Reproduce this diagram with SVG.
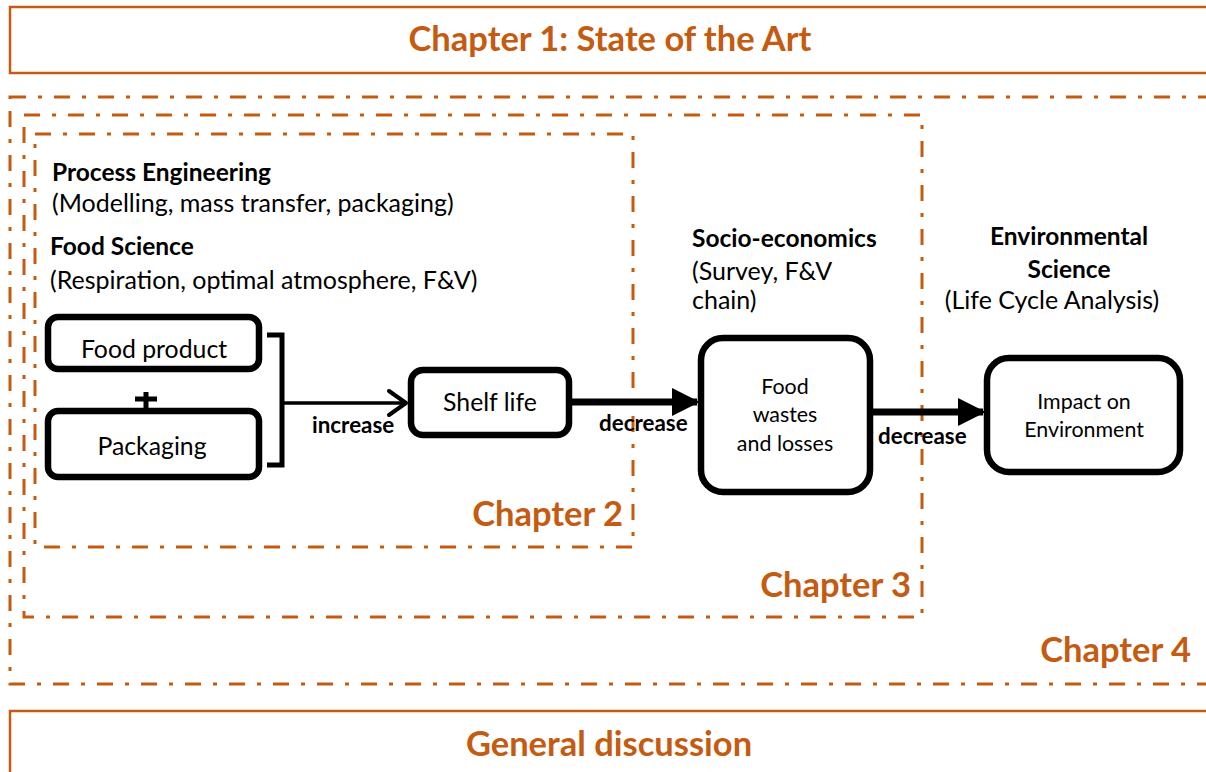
<svg xmlns="http://www.w3.org/2000/svg" width="1206" height="772" viewBox="0 0 1206 772">
<style>
text{font-family:Lato,"Carlito","Liberation Sans",sans-serif;fill:#000}
.ch{fill:#C55A11;font-weight:bold;font-size:34.5px}
.dd{fill:none;stroke:#C55A11;stroke-width:3;stroke-dasharray:16 12 4 12}
.solid{fill:none;stroke:#C55A11;stroke-width:2.5}
.b{font-weight:bold}
.h{font-size:25px}
.hb{font-size:24.5px;font-weight:bold}
.n{fill:#fff;stroke:#000;stroke-width:6.5}
.nt{font-size:24.8px;text-anchor:middle}
.ns{font-size:21.4px;text-anchor:middle}
.lbl{font-size:22.4px;font-weight:bold}
</style>
<defs>
<marker id="tri" markerWidth="4" markerHeight="4" refX="3.6" refY="2" orient="auto" markerUnits="strokeWidth" viewBox="0 0 4 4">
<path d="M0,0 L4,2 L0,4 Z" fill="#000"/>
</marker>
</defs>
<g id="chapter1">
<rect class="solid" x="10" y="7" width="1210" height="66"/>
<text class="ch" x="610" y="51" text-anchor="middle">Chapter 1: State of the Art</text>
</g>
<g id="chapter4">
<rect class="dd" x="10" y="97" width="1210" height="587"/>
<text class="ch" x="1191" y="662" text-anchor="end">Chapter 4</text>
</g>
<g id="chapter3">
<rect class="dd" x="24" y="115" width="898" height="502"/>
<text class="ch" x="911" y="597" text-anchor="end">Chapter 3</text>
</g>
<g id="chapter2">
<rect class="dd" x="35" y="134" width="598" height="413"/>
<text class="ch" x="623" y="526" text-anchor="end">Chapter 2</text>
</g>
<g id="general">
<rect class="solid" x="10" y="711" width="1210" height="80"/>
<text class="ch" x="609" y="756" text-anchor="middle">General discussion</text>
</g>
<g id="labels">
<text class="hb" x="52" y="181">Process Engineering</text>
<text class="h" x="52" y="212">(Modelling, mass transfer, packaging)</text>
<text class="hb" x="50" y="255">Food Science</text>
<text class="h" x="50" y="289">(Respiration, optimal atmosphere, F&amp;V)</text>
<text class="hb" x="692" y="247">Socio-economics</text>
<text class="h" x="692" y="280">(Survey, F&amp;V</text>
<text class="h" x="692" y="309">chain)</text>
<text class="hb" x="1069" y="245" text-anchor="middle">Environmental</text>
<text class="hb" x="1069" y="278" text-anchor="middle">Science</text>
<text class="h" x="1052" y="309" text-anchor="middle">(Life Cycle Analysis)</text>
</g>
<g id="food-product">
<rect class="n" x="48" y="317" width="211" height="52" rx="10"/>
<text class="nt" x="154" y="358">Food product</text>
</g>
<g id="packaging">
<rect class="n" x="48" y="411" width="211" height="66" rx="10"/>
<text class="nt" x="152" y="455">Packaging</text>
</g>
<g id="shelf-life">
<rect class="n" x="411" y="370" width="158" height="65" rx="12"/>
<text class="nt" x="490" y="411">Shelf life</text>
</g>
<g id="food-wastes">
<rect class="n" x="701" y="338" width="169" height="154" rx="22"/>
<text class="ns" x="785" y="394">Food</text>
<text class="ns" x="785" y="422">wastes</text>
<text class="ns" x="785" y="451">and losses</text>
</g>
<g id="impact">
<rect class="n" x="987" y="358" width="193" height="114" rx="22"/>
<text class="ns" x="1084" y="409">Impact on</text>
<text class="ns" x="1084" y="437">Environment</text>
</g>
<g id="connectors" stroke="#000" fill="none">
<path d="M146,392 V410 M135,399 H157" stroke-width="5"/>
<path d="M267,335 H282 V465 H267" stroke-width="5"/>
<path d="M282,403 H406" stroke-width="3.5"/>
<path d="M389,391 L406,403 L389,415" stroke-width="4" stroke-linecap="round" stroke-linejoin="round"/>
<path d="M572,402 H697" stroke-width="7" marker-end="url(#tri)"/>
<path d="M873,412 H983" stroke-width="7" marker-end="url(#tri)"/>
<text class="lbl" x="312" y="433" stroke="none">increase</text>
<text class="lbl" x="599" y="431" stroke="none">decrease</text>
<text class="lbl" x="878" y="444" stroke="none">decrease</text>
</g>
</svg>
